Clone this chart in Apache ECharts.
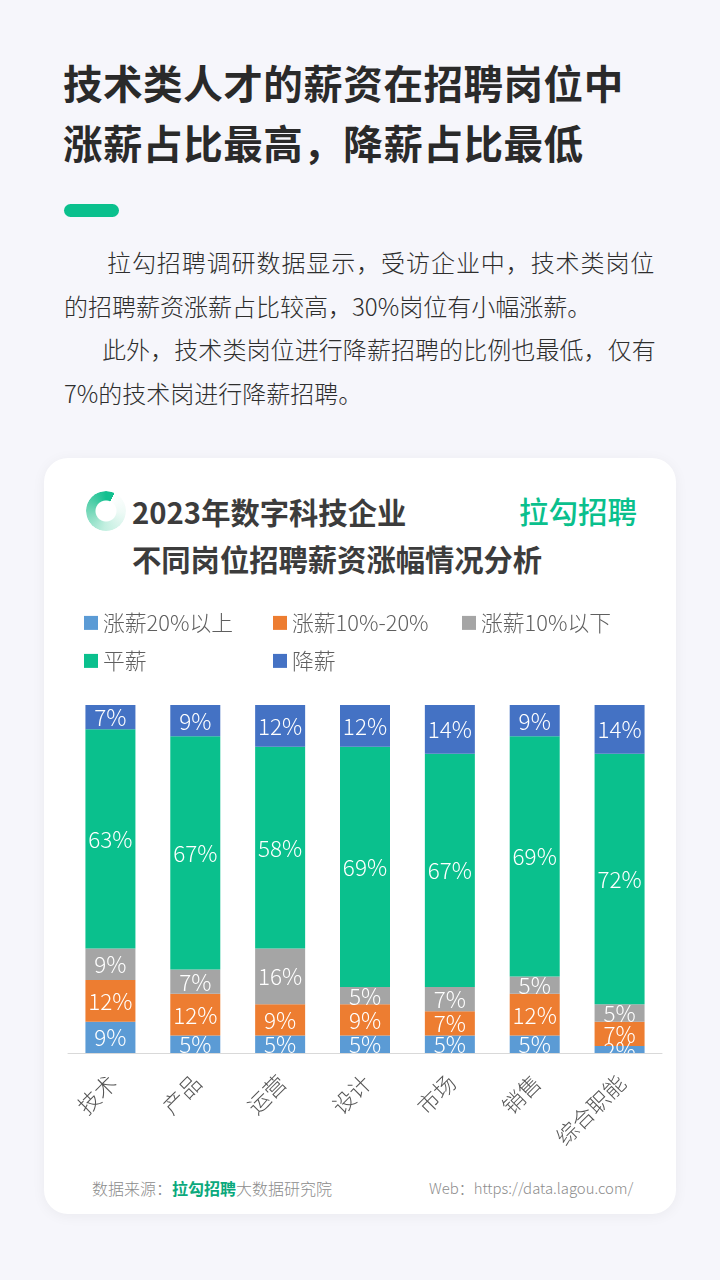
<!DOCTYPE html>
<html>
<head>
<meta charset="utf-8">
<style>
  html, body { margin: 0; padding: 0; }
  body { width: 720px; height: 1280px; background: #f6f6fb; position: relative; overflow: hidden;
         font-family: "Noto Sans CJK SC", sans-serif; }
  .abs { position: absolute; white-space: nowrap; }
  .headline { left: 63px; font-size: 39.5px; font-weight: 700; color: #2a2a2a; line-height: 56px; letter-spacing: 0.55px; }
  .bar { left: 64px; top: 204px; width: 55px; height: 13px; border-radius: 7px; background: #0ac08d; }
  .para { font-size: 24px; font-weight: 300; color: #2e2e2e; line-height: 36px; }
  .card { left: 44px; top: 458px; width: 632px; height: 756px; background: #fff; border-radius: 24px;
          box-shadow: 0 2px 14px rgba(0,0,0,0.05); }
  .ring { left: 86px; top: 491px; width: 40px; height: 40px; border-radius: 50%;
          background: conic-gradient(from 25deg, #ffffff 0deg, #eefaf6 70deg, #c2efe0 160deg, #6fd6b6 250deg, #12c08f 335deg, #12c08f 360deg);
          -webkit-mask: radial-gradient(circle, transparent 10px, #000 11px); mask: radial-gradient(circle, transparent 10px, #000 11px); }
  .title { left: 132px; font-size: 29.3px; font-weight: 700; color: #3c3c3c; line-height: 40px; }
  .brand { left: 519px; top: 489px; font-size: 29.5px; font-weight: 500; color: #0ac08d; line-height: 42px; }
  .foot { top: 1176px; font-size: 16px; font-weight: 300; color: #8c8c8c; line-height: 24px; }
  .foot b { color: #0aa97c; font-weight: 700; }
  #chart { position: absolute; left: 44px; top: 590px; width: 632px; height: 580px; }
</style>
<script src="https://cdn.jsdelivr.net/npm/echarts@6/dist/echarts.min.js"></script>
</head>
<body>
<div class="abs headline" style="top:54px">技术类人才的薪资在招聘岗位中</div>
<div class="abs headline" style="top:114px">涨薪占比最高，降薪占比最低</div>
<div class="abs bar"></div>
<div class="abs para" style="left:107px;top:244px;letter-spacing:0.92px">拉勾招聘调研数据显示，受访企业中，技术类岗位</div>
<div class="abs para" style="left:64px;top:288px">的招聘薪资涨薪占比较高，30%岗位有小幅涨薪。</div>
<div class="abs para" style="left:102px;top:331px;letter-spacing:0.08px">此外，技术类岗位进行降薪招聘的比例也最低，仅有</div>
<div class="abs para" style="left:64px;top:375px">7%的技术岗进行降薪招聘。</div>
<div class="abs card"></div>
<div class="abs ring"></div>
<div class="abs title" style="top:491px">2023年数字科技企业</div>
<div class="abs title" style="top:538px">不同岗位招聘薪资涨幅情况分析</div>
<div class="abs brand">拉勾招聘</div>
<div id="chart"></div>
<div class="abs foot" style="left:92px">数据来源：<b>拉勾招聘</b>大数据研究院</div>
<div class="abs foot" style="left:429px;font-size:14.9px">Web：https://data.lagou.com/</div>
<script>
var categories = ['技术', '产品', '运营', '设计', '市场', '销售', '综合职能'];
var seriesNames = ['涨薪20%以上', '涨薪10%-20%', '涨薪10%以下', '平薪', '降薪'];
var seriesColors = ['#5b9bd5', '#ed7d31', '#a5a5a5', '#0ac08d', '#4472c4'];
var raiseHigh = [9, 5, 5, 5, 5, 5, 2];
var raiseMid = [12, 12, 9, 9, 7, 12, 7];
var raiseLow = [9, 7, 16, 5, 7, 5, 5];
var flat = [63, 67, 58, 69, 67, 69, 72];
var cut = [7, 9, 12, 12, 14, 9, 14];
var seriesValues = [raiseHigh, raiseMid, raiseLow, flat, cut];

var chart = echarts.init(document.getElementById('chart'));

function legendAt(name, left, top) {
    return {
        left: left,
        top: top,
        padding: 0,
        itemWidth: 14,
        itemHeight: 14,
        itemGap: 0,
        icon: 'rect',
        data: [name],
        textStyle: {
            color: '#5f5f5f',
            fontSize: 21.8,
            fontWeight: 300,
            fontFamily: 'Noto Sans CJK SC',
            padding: [0, 0, 0, 0]
        }
    };
}

chart.setOption({
    animation: false,
    textStyle: { fontFamily: 'Noto Sans CJK SC' },
    legend: [
        legendAt(seriesNames[0], 40, 22),
        legendAt(seriesNames[1], 229, 22),
        legendAt(seriesNames[2], 418, 22),
        legendAt(seriesNames[3], 40, 60),
        legendAt(seriesNames[4], 229, 60)
    ],
    grid: { left: 24, right: 14, top: 115, height: 348 },
    xAxis: {
        type: 'category',
        data: categories,
        z: 20,
        axisTick: { show: false },
        axisLine: { lineStyle: { color: '#d9d9d9', width: 1 } },
        axisLabel: {
            color: '#555',
            fontSize: 22,
            fontWeight: 300,
            rotate: 45,
            margin: 28,
            padding: [0, -3, 0, 0],
            interval: 0
        }
    },
    yAxis: { type: 'value', min: 0, max: 100, show: false },
    // white strip under the baseline, the bar labels get cut off there like the original
    graphic: [{
        type: 'rect',
        z: 10,
        shape: { x: 0, y: 463, width: 632, height: 110 },
        style: { fill: '#fff' }
    }],
    series: seriesValues.map(function (values, i) {
        return {
            name: seriesNames[i],
            type: 'bar',
            stack: 'total',
            barWidth: 50,
            z: 2,
            data: values,
            itemStyle: { color: seriesColors[i] },
            label: {
                show: true,
                position: 'inside',
                offset: [0, 0.5],
                color: '#fff',
                fontSize: 22.5,
                fontWeight: 300,
                formatter: '{c}%'
            }
        };
    })
});
</script>
</body>
</html>
